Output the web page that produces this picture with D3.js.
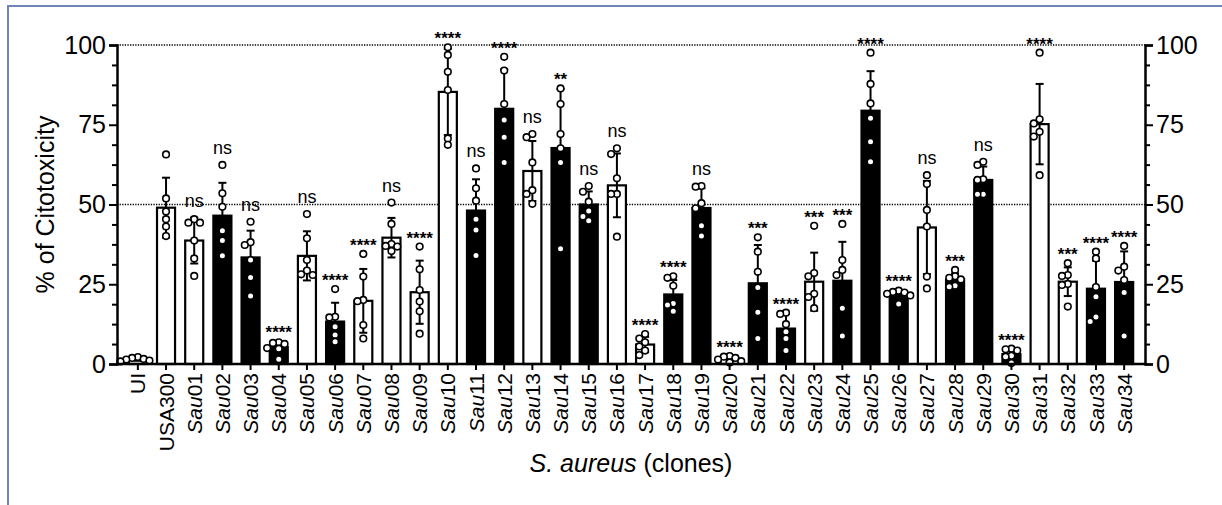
<!DOCTYPE html>
<html>
<head>
<meta charset="utf-8">
<script src="https://cdn.jsdelivr.net/npm/d3@7"></script>
<style>
    body { margin: 0; background: #fff; }
    svg text { font-family: "Liberation Sans", Arial, Helvetica, sans-serif; fill: #000; }
</style>
</head>
<body>
<div class="cyto-container"></div>
<script>
// Data: clones on the x axis
const groups = ["UI", "USA300",
    "Sau01", "Sau02", "Sau03", "Sau04", "Sau05", "Sau06", "Sau07", "Sau08", "Sau09", "Sau10",
    "Sau11", "Sau12", "Sau13", "Sau14", "Sau15", "Sau16", "Sau17", "Sau18", "Sau19", "Sau20",
    "Sau21", "Sau22", "Sau23", "Sau24", "Sau25", "Sau26", "Sau27", "Sau28", "Sau29", "Sau30",
    "Sau31", "Sau32", "Sau33", "Sau34"];

// clones drawn with a solid bar
const solidGroups = ["Sau02", "Sau03", "Sau04", "Sau06", "Sau11", "Sau12", "Sau14", "Sau15",
    "Sau18", "Sau19", "Sau21", "Sau22", "Sau24", "Sau25", "Sau26", "Sau28", "Sau29", "Sau30",
    "Sau33", "Sau34"];

// mean and SD of % cytotoxicity
const means = [1.5, 49.0, 38.7, 46.5, 33.4, 5.3, 33.9, 13.3, 19.8, 39.6, 22.5, 85.3,
    48.1, 80.0, 60.5, 67.7, 50.0, 56.0, 6.1, 21.8, 48.9, 1.6,
    25.3, 11.1, 25.8, 26.1, 79.4, 21.7, 42.8, 26.5, 57.7, 3.1,
    75.2, 25.8, 23.6, 25.7];
const sds = [0.5, 9.4, 7.2, 10.3, 8.4, 1.9, 7.7, 5.9, 10.0, 6.2, 9.9, 13.5,
    9.8, 12.4, 9.4, 18.5, 4.1, 10.0, 2.4, 4.5, 6.2, 0.8,
    12.0, 4.6, 9.1, 12.2, 12.4, 1.5, 14.6, 1.9, 4.2, 1.7,
    12.6, 4.5, 8.8, 9.6];

// individual replicates
const replicates = [
    [2.2, 1.9, 1.6, 1.4, 1.1, 0.8],
    [65.7, 51.9, 47.8, 45.4, 43.1, 40.1],
    [45.4, 44.3, 44.3, 38.7, 33.1, 27.6],
    [62.4, 53.5, 49.3, 41.8, 38.7, 33.9],
    [44.6, 38.2, 37.3, 32.6, 27.1, 21.3],
    [6.8, 6.6, 6.3, 5.0, 4.8, 1.5],
    [47.0, 39.4, 32.6, 29.3, 28.1, 27.9],
    [23.5, 14.8, 14.6, 11.7, 9.1, 7.0],
    [34.5, 27.4, 20.1, 19.7, 12.2, 8.0],
    [50.6, 43.9, 37.6, 37.0, 36.8, 35.4],
    [36.8, 29.7, 23.2, 19.6, 16.5, 9.5],
    [99.3, 96.9, 91.6, 85.9, 70.7, 68.7],
    [61.3, 55.1, 51.2, 45.4, 42.0, 34.0],
    [96.3, 92.0, 81.5, 76.5, 71.1, 63.2],
    [72.1, 71.1, 63.2, 54.5, 53.3, 50.2],
    [86.4, 81.5, 72.1, 67.6, 63.2, 36.1],
    [55.8, 54.0, 50.9, 48.0, 46.2, 44.9],
    [67.6, 65.8, 58.2, 53.3, 53.3, 39.9],
    [9.4, 8.0, 6.8, 5.5, 4.2, 2.8],
    [27.5, 27.0, 24.5, 19.0, 18.5, 16.5],
    [55.8, 55.6, 50.4, 48.8, 43.3, 40.1],
    [2.5, 2.3, 1.9, 1.4, 0.9, 0.5],
    [39.7, 35.2, 28.9, 24.0, 16.2, 8.0],
    [16.1, 15.7, 12.5, 10.1, 8.0, 4.2],
    [43.3, 28.5, 27.5, 22.0, 21.0, 17.5],
    [43.9, 32.6, 29.5, 27.9, 17.5, 8.8],
    [97.6, 87.8, 81.7, 77.0, 69.7, 63.4],
    [23.0, 22.6, 22.4, 22.0, 21.5, 18.8],
    [59.2, 56.4, 48.3, 43.1, 27.4, 23.7],
    [29.5, 27.5, 27.0, 26.5, 24.5, 24.2],
    [63.4, 62.4, 57.9, 57.7, 53.2, 53.2],
    [4.8, 4.6, 4.2, 2.6, 2.3, 0.3],
    [97.6, 76.7, 75.4, 72.8, 71.3, 59.2],
    [31.6, 27.9, 27.6, 25.1, 24.8, 18.0],
    [35.2, 33.1, 24.1, 21.1, 14.7, 13.3],
    [37.0, 30.5, 29.3, 26.3, 22.4, 8.8]
];

// significance vs USA300
const signif = ["", "", "ns", "ns", "ns", "****", "ns", "****", "****", "ns", "****", "****",
    "ns", "****", "ns", "**", "ns", "ns", "****", "****", "ns", "****",
    "***", "****", "***", "***", "****", "****", "ns", "***", "ns", "****",
    "****", "***", "****", "****"];

const yMajorTicks = [0, 25, 50, 75, 100];
const yMinorTicks = [6.25, 12.5, 18.75, 31.25, 37.5, 43.75, 56.25, 62.5, 68.75, 81.25, 87.5, 93.75];
const refLines = [50, 100];

// spread overlapping points sideways, like a column scatter
const swarmOffsets = (vals, y, minDist, step) => {
    const placed = [];
    const offs = new Array(vals.length).fill(0);
    const order = vals.map((v, i) => i).sort((a, b) => vals[b] - vals[a]);
    order.forEach(i => {
        const py = y(vals[i]);
        for (let k = 0; k < 30; k++) {
            const dx = k === 0 ? 0 : (k % 2 ? -1 : 1) * Math.ceil(k / 2) * step;
            if (placed.every(p => Math.hypot(p.dx - dx, p.py - py) >= minDist)) {
                offs[i] = dx;
                placed.push({ dx, py });
                break;
            }
        }
    });
    return offs;
};

const makeChart = (cls) => {
    const W = 1222, H = 505;
    const left = 117, right = 1145, top = 45, bottom = 364;

    const svg = d3.select(`.${cls}`).append("svg")
        .attr("width", W)
        .attr("height", H);

    // frame around the figure
    svg.append("rect")
        .attr("x", 8).attr("y", 6)
        .attr("width", 1240).attr("height", 540)
        .attr("fill", "none")
        .attr("stroke", "#7086bb")
        .attr("stroke-width", 2);

    const x = d3.scaleBand()
        .domain(groups)
        .range([left, right])
        .paddingInner(0.36)
        .paddingOuter(0.42);

    const y = d3.scaleLinear()
        .domain([0, 100])
        .range([bottom, top]);

    const rows = groups.map((g, i) => ({
        group: g,
        mean: means[i],
        sd: sds[i],
        pts: replicates[i],
        sig: signif[i],
        solid: solidGroups.includes(g)
    }));

    // dotted reference lines
    svg.selectAll(".ref")
        .data(refLines)
        .enter()
        .append("line")
        .attr("x1", left).attr("x2", right)
        .attr("y1", d => y(d)).attr("y2", d => y(d))
        .attr("stroke", "#000")
        .attr("stroke-width", 1.3)
        .attr("stroke-dasharray", "1.3,1.3");

    // bars
    svg.selectAll(".bar")
        .data(rows)
        .enter()
        .append("rect")
        .attr("x", d => x(d.group))
        .attr("y", d => y(d.mean))
        .attr("width", x.bandwidth())
        .attr("height", d => y(0) - y(d.mean))
        .attr("fill", d => d.solid ? "#000" : "#fff")
        .attr("stroke", "#000")
        .attr("stroke-width", 2.2);

    // error bars (mean +/- SD)
    const cap = 4;
    const err = svg.selectAll(".err")
        .data(rows)
        .enter()
        .append("g")
        .attr("stroke", "#000")
        .attr("stroke-width", 2);
    const cx = d => x(d.group) + x.bandwidth() / 2;
    err.append("line")
        .attr("x1", cx).attr("x2", cx)
        .attr("y1", d => y(Math.max(0, d.mean - d.sd)))
        .attr("y2", d => y(d.mean + d.sd));
    err.append("line")
        .attr("x1", d => cx(d) - cap).attr("x2", d => cx(d) + cap)
        .attr("y1", d => y(d.mean + d.sd)).attr("y2", d => y(d.mean + d.sd));
    err.append("line")
        .attr("x1", d => cx(d) - cap).attr("x2", d => cx(d) + cap)
        .attr("y1", d => y(Math.max(0, d.mean - d.sd))).attr("y2", d => y(Math.max(0, d.mean - d.sd)));

    // replicate points
    rows.forEach(d => {
        const offs = swarmOffsets(d.pts, y, 5.8, 5.8);
        svg.selectAll(null)
            .data(d.pts)
            .enter()
            .append("circle")
            .attr("cx", (v, i) => cx(d) + offs[i])
            .attr("cy", v => y(v))
            .attr("r", 3.3)
            .attr("fill", "#fff")
            .attr("stroke", "#000")
            .attr("stroke-width", 1.6);
    });

    // significance labels
    svg.selectAll(".sig")
        .data(rows.filter(d => d.sig))
        .enter()
        .append("text")
        .attr("x", cx)
        .attr("y", d => {
            const hi = Math.max(d.mean + d.sd, d3.max(d.pts));
            return y(hi) - (d.sig === "ns" ? 11 : 3);
        })
        .attr("text-anchor", "middle")
        .style("font-size", d => d.sig === "ns" ? "18px" : "17px")
        .style("font-weight", d => d.sig === "ns" ? "normal" : "bold")
        .text(d => d.sig);

    // left axis
    const gl = svg.append("g")
        .attr("transform", `translate(${left},0)`)
        .call(d3.axisLeft(y).tickValues(yMajorTicks).tickSize(8).tickPadding(3));
    svg.append("g")
        .attr("transform", `translate(${left},0)`)
        .call(d3.axisLeft(y).tickValues(yMinorTicks).tickSize(5).tickFormat(""))
        .call(g => g.select(".domain").remove());

    // right axis
    const gr = svg.append("g")
        .attr("transform", `translate(${right},0)`)
        .call(d3.axisRight(y).tickValues(yMajorTicks).tickSize(8).tickPadding(3));
    svg.append("g")
        .attr("transform", `translate(${right},0)`)
        .call(d3.axisRight(y).tickValues(yMinorTicks).tickSize(5).tickFormat(""))
        .call(g => g.select(".domain").remove());

    // bottom axis
    const gx = svg.append("g")
        .attr("transform", `translate(0,${bottom})`)
        .call(d3.axisBottom(x).tickSize(6).tickSizeOuter(0));

    gx.selectAll("text")
        .attr("transform", "rotate(-90)")
        .attr("x", -9)
        .attr("y", 0)
        .attr("dy", "0.36em")
        .attr("text-anchor", "end")
        .style("font-size", "21px")
        .each(function (g) {
            const t = d3.select(this);
            if (g.startsWith("Sau")) {
                t.text("");
                t.append("tspan").style("font-style", "italic").text("Sau");
                t.append("tspan").text(g.slice(3));
            }
        });

    [gl, gr].forEach(g => g.selectAll("text").style("font-size", "25px"));
    svg.selectAll(".domain").attr("stroke-width", 2.5);
    svg.selectAll(".tick line").attr("stroke-width", 2);
    // let the axes meet cleanly at the base
    gx.select(".domain").attr("d", `M${left - 1},0H${right + 1}`);

    // axis titles
    svg.append("text")
        .attr("transform", `translate(54,${(top + bottom) / 2}) rotate(-90)`)
        .attr("text-anchor", "middle")
        .style("font-size", "25px")
        .text("% of Citotoxicity");

    const xt = svg.append("text")
        .attr("x", (left + right) / 2)
        .attr("y", 472)
        .attr("text-anchor", "middle")
        .style("font-size", "25px");
    xt.append("tspan").style("font-style", "italic").text("S. aureus");
    xt.append("tspan").text(" (clones)");
};

window.addEventListener("DOMContentLoaded", () => {
    makeChart("cyto-container");
});
</script>
</body>
</html>
